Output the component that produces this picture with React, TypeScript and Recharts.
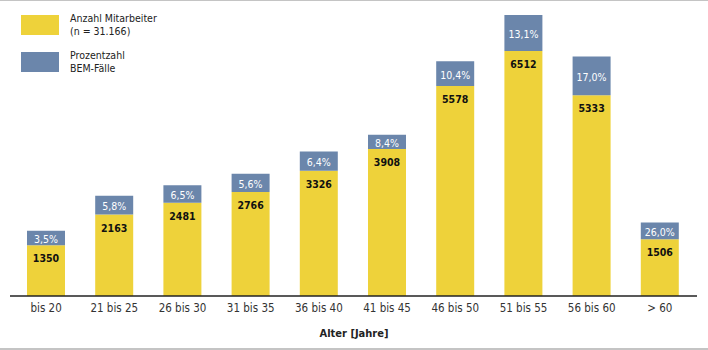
import { Bar, BarChart, LabelList, XAxis, YAxis } from 'recharts'

const ageGroups = ['bis 20', '21 bis 25', '26 bis 30', '31 bis 35', '36 bis 40', '41 bis 45', '46 bis 50', '51 bis 55', '56 bis 60', '> 60']
const employees = [1350, 2163, 2481, 2766, 3326, 3908, 5578, 6512, 5333, 1506]
const bemPercent = ['3,5%', '5,8%', '6,5%', '5,6%', '6,4%', '8,4%', '10,4%', '13,1%', '17,0%', '26,0%']
// height of the blue label box in axis units
const bemBox = [387, 500, 463, 484, 511, 379, 658, 956, 1035, 448]

const data = ageGroups.map((age, i) => ({ age, count: employees[i], pct: bemPercent[i], box: bemBox[i] }))

const YELLOW = '#eed23a'
const BLUE = '#6b86ab'
const FONT = '"DejaVu Sans Condensed", "Liberation Sans Narrow", Arial, sans-serif'

function CountLabel(p: any) {
  return (
    <text x={p.x + p.width / 2} y={p.y + 13} textAnchor="middle" dominantBaseline="central" fontSize={10.5} fontWeight={700} fill="#111" fontFamily={FONT}>
      {p.value}
    </text>
  )
}

function PctLabel(p: any) {
  return (
    <text x={p.x + p.width / 2} y={p.y + p.height / 2 + 1} textAnchor="middle" dominantBaseline="central" fontSize={10.5} fill="#fff" fontFamily={FONT}>
      {p.value}
    </text>
  )
}

function LegendRow({ color, a, b, top }: { color: string; a: string; b: string; top: number }) {
  return (
    <div style={{ position: 'absolute', left: 21, top, display: 'flex' }}>
      <div style={{ width: 38, height: 20, background: color }} />
      <div style={{ marginLeft: 11, marginTop: -3, fontSize: 10.5, lineHeight: '13px', color: '#222', fontFamily: FONT }}>
        <div>{a}</div>
        <div>{b}</div>
      </div>
    </div>
  )
}

export default function App() {
  return (
    <div style={{ position: 'absolute', left: 0, top: 0, width: 708, height: 350, background: '#fff', fontFamily: FONT }}>
      <div style={{ position: 'absolute', left: 0, top: 0, width: 708, height: 1, background: '#c4c4c4' }} />
      <BarChart width={708} height={350} data={data} margin={{ top: 15, right: 11, left: 10, bottom: 24 }}>
        <YAxis hide domain={[0, 7400]} />
        <XAxis
          dataKey="age"
          tickLine={false}
          axisLine={{ stroke: '#222', strokeWidth: 1.5 }}
          padding={{ left: 2, right: 3 }}
          tick={{ fontSize: 11.5, fill: '#333', fontFamily: FONT }}
          interval={0}
        />
        <Bar dataKey="count" stackId="a" fill={YELLOW} barSize={38} isAnimationActive={false}>
          <LabelList dataKey="count" content={CountLabel} />
        </Bar>
        <Bar dataKey="box" stackId="a" fill={BLUE} barSize={38} isAnimationActive={false}>
          <LabelList dataKey="pct" content={PctLabel} />
        </Bar>
      </BarChart>
      <LegendRow color={YELLOW} a="Anzahl Mitarbeiter" b="(n = 31.166)" top={15} />
      <LegendRow color={BLUE} a="Prozentzahl" b="BEM-Fälle" top={52} />
      <div style={{ position: 'absolute', left: 0, width: 708, top: 327, textAlign: 'center', fontSize: 11, fontWeight: 700, color: '#222' }}>
        Alter [Jahre]
      </div>
      <div style={{ position: 'absolute', left: 0, top: 348, width: 708, height: 2, background: '#c4c4c4' }} />
    </div>
  )
}
